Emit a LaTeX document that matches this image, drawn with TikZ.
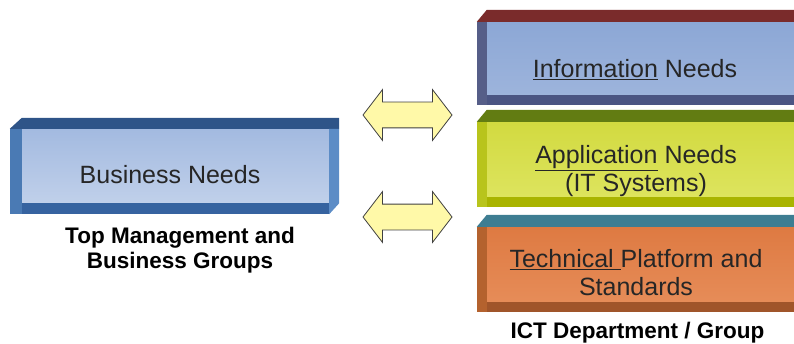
\documentclass[tikz,border=0pt]{standalone}
\usepackage{fontspec}
\setmainfont{Liberation Sans}
\usetikzlibrary{shapes.arrows, positioning, calc}

%% face and band colours
\definecolor{bizhi}{HTML}{A3BAE0}
\definecolor{bizlo}{HTML}{C0D0EA}
\definecolor{biztop}{HTML}{2E5488}
\definecolor{bizleft}{HTML}{4A7AB4}
\definecolor{bizbot}{HTML}{3663A0}
\definecolor{bizright}{HTML}{5C8CC6}
\definecolor{infohi}{HTML}{8CA7D5}
\definecolor{infolo}{HTML}{9DB4DC}
\definecolor{infotop}{HTML}{7A2B2B}
\definecolor{infoleft}{HTML}{565E88}
\definecolor{infobot}{HTML}{4B5583}
\definecolor{apphi}{HTML}{D2DA40}
\definecolor{applo}{HTML}{DDE45E}
\definecolor{apptop}{HTML}{627C12}
\definecolor{appleft}{HTML}{B8C41C}
\definecolor{appbot}{HTML}{A9B400}
\definecolor{techhi}{HTML}{DE7A42}
\definecolor{techlo}{HTML}{E68C58}
\definecolor{techtop}{HTML}{3E7D92}
\definecolor{techleft}{HTML}{B4622E}
\definecolor{techbot}{HTML}{A0552A}
\definecolor{linkfill}{HTML}{FFF9A8}

% bevel bands round a face node:
% #1 node, #2-#5 top/left/bottom/right width, #6-#9 top/left/bottom/right colour
\newcommand{\bevelbands}[9]{%
  \fill[#6] ($(#1.north west)+(-#3,0)$) -- ($(#1.north west)+(0,#2)$)
    -- ($(#1.north east)+(#5,#2)$) -- ($(#1.north east)+(#5,0)$) -- cycle;
  \fill[#7] ($(#1.north west)+(-#3,0)$) -- (#1.north west)
    -- ($(#1.south west)+(0,-#4)$) -- ($(#1.south west)+(-#3,-#4)$) -- cycle;
  \fill[#8] (#1.south west) -- (#1.south east)
    -- ($(#1.south east)+(0,-#4)$) -- ($(#1.south west)+(0,-#4)$) -- cycle;
  \fill[#9] (#1.north east) -- ($(#1.north east)+(#5,0)$)
    -- ($(#1.south east)+(#5,0)$) -- ($(#1.south east)+(0,-#4)$) -- cycle;
}

\begin{document}
\begin{tikzpicture}[
  x=1pt, y=1pt,
  face/.style={rectangle, inner sep=0pt, minimum width=307pt},
  bizface/.style={face, minimum height=74pt, top color=bizhi, bottom color=bizlo},
  infoface/.style={face, minimum height=73pt, top color=infohi, bottom color=infolo},
  appface/.style={face, minimum height=75pt, top color=apphi, bottom color=applo},
  techface/.style={face, minimum height=75pt, top color=techhi, bottom color=techlo},
  boxtext/.style={font=\fontsize{25}{28}\selectfont, text=black!85, align=center},
  grouplbl/.style={font=\fontsize{22.5}{25}\selectfont\bfseries, align=center},
  link/.style={double arrow, double arrow tip angle=105, double arrow head extend=12.5pt,
    double arrow head indent=0pt, minimum height=89pt, inner xsep=0pt, inner ysep=12.5pt,
    fill=linkfill, draw=black!75, line width=0.8pt},
]
\useasboundingbox (0,0) rectangle (794,343);

%% Left: business side
\node[bizface] (biz) at (175.5,177) {};
\bevelbands{biz}{11}{12}{11}{10}{biztop}{bizleft}{bizbot}{bizright}
\node[boxtext] (biztxt) at (170,168) {Business Needs};
\node[grouplbl, below=20pt of biz, xshift=4.5pt] (bizgrp) {Top Management and\\Business Groups};

%% Right: ICT stack
\node[infoface] (info) at (640.5,284.5) {};
\bevelbands{info}{12}{10}{10}{0}{infotop}{infoleft}{infobot}{infobot}
\node[boxtext] (infotxt) at (635,273.5) {\underline{Information} Needs};

\node[appface] (app) at (640.5,183.5) {};
\bevelbands{app}{12}{10}{10}{0}{apptop}{appleft}{appbot}{appbot}
\node[boxtext] (apptxt) at (636,172) {\underline{Application} Needs\\(IT Systems)};

\node[techface] (tech) at (640.5,78.5) {};
\bevelbands{tech}{12}{10}{10}{0}{techtop}{techleft}{techbot}{techbot}
\node[boxtext] (techtxt) at (636,70) {\underline{Technical\ }Platform and\\Standards};
\node[grouplbl, below=16pt of tech, xshift=-3pt] (ictgrp) {ICT Department / Group};

%% Two-way links
\node[link] (upper) at (407.5,228) {};
\node[link] (lower) at (407.5,126) {};

\end{tikzpicture}
\end{document}
